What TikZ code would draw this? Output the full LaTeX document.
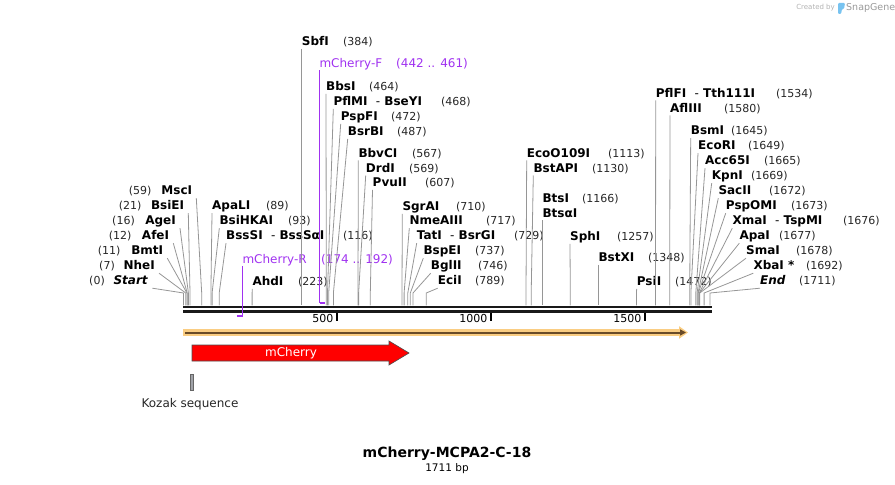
\documentclass[tikz,border=0pt]{standalone}
\usepackage{fontspec}
\setmainfont{DejaVu Sans}
\usetikzlibrary{arrows.meta}
\definecolor{cutgrey}{RGB}{150,150,150}
\definecolor{primercol}{RGB}{160,50,240}
\definecolor{orfhalo}{RGB}{250,205,130}
\definecolor{orfcore}{RGB}{105,75,40}
\definecolor{featred}{RGB}{255,0,0}
\definecolor{kozakgrey}{RGB}{160,162,168}
\definecolor{logoblue}{RGB}{120,195,240}
\tikzset{
    every node/.style={inner sep=0pt},
    enzR/.style={font=\fontsize{12bp}{14bp}\selectfont\bfseries,anchor=base west,text depth=2.5bp,inner ysep=0.5bp},
    enzL/.style={enzR,anchor=base east},
    cutnum/.style={font=\fontsize{11bp}{13bp}\selectfont,text=black!85,anchor=base west},
    cutnumL/.style={cutnum,anchor=base east},
    cutline/.style={draw=cutgrey,line width=0.8bp},
    primer/.style={font=\fontsize{12bp}{14bp}\selectfont,text=primercol,anchor=base west,text depth=2.5bp,inner ysep=0.5bp},
    primerline/.style={draw=primercol,line width=1bp},
    backbone/.style={draw=black!90,line width=2.8bp},
    tick/.style={draw=black,line width=2bp},
    ticklabel/.style={font=\fontsize{11bp}{13bp}\selectfont,anchor=east},
    feat/.style={fill=featred,draw=black!70,line width=0.6bp},
    featlabel/.style={font=\fontsize{12bp}{14bp}\selectfont,text=white},
    featname/.style={font=\fontsize{12bp}{14bp}\selectfont,text=black!85}
}

\begin{document}
\begin{tikzpicture}[x=1bp,y=-1bp]
\useasboundingbox (0,0) rectangle (895,485);

% sequence
\coordinate (seqL) at (183,307);
\coordinate (seqR) at (711.5,307);
\coordinate (seqL2) at (183,311.5);
\coordinate (seqR2) at (711.5,311.5);
\coordinate (seqtop) at (0,305.5);
\draw[backbone] (seqL) -- (seqR);
\draw[backbone] (seqL2) -- (seqR2);

\coordinate (t500) at (337,313);
\coordinate (t1000) at (490.8,313);
\coordinate (t1500) at (644.7,313);
\draw[tick] (t500) -- ++(0,8);
\draw[tick] (t1000) -- ++(0,8);
\draw[tick] (t1500) -- ++(0,8);
\node[ticklabel] (n500) at (333.5,318) {500};
\node[ticklabel] (n1000) at (487.5,318) {1000};
\node[ticklabel] (n1500) at (641.5,318) {1500};

% left cluster
\node[enzL] (lStart) at (148.3,285) {\textit{Start}};
\node[cutnumL] (nStart) at (105,285) {(0)};
\coordinate (kStart) at (183.5,293);
\draw[cutline] ([xshift=4bp]lStart.south east) -- (kStart) -- (kStart |- seqtop);

\node[enzL] (lNheI) at (155,270) {NheI};
\node[cutnumL] (nNheI) at (115,270) {(7)};
\coordinate (kNheI) at (185.7,293);
\draw[cutline] ([xshift=4bp]lNheI.south east) -- (kNheI) -- (kNheI |- seqtop);

\node[enzL] (lBmtI) at (163.3,255) {BmtI};
\node[cutnumL] (nBmtI) at (120.7,255) {(11)};
\coordinate (kBmtI) at (186.9,293);
\draw[cutline] ([xshift=4bp]lBmtI.south east) -- (kBmtI) -- (kBmtI |- seqtop);

\node[enzL] (lAfeI) at (169.3,240) {AfeI};
\node[cutnumL] (nAfeI) at (131.7,240) {(12)};
\coordinate (kAfeI) at (187.2,293);
\draw[cutline] ([xshift=4bp]lAfeI.south east) -- (kAfeI) -- (kAfeI |- seqtop);

\node[enzL] (lAgeI) at (176,225) {AgeI};
\node[cutnumL] (nAgeI) at (135,225) {(16)};
\coordinate (kAgeI) at (188.4,293);
\draw[cutline] ([xshift=4bp]lAgeI.south east) -- (kAgeI) -- (kAgeI |- seqtop);

\node[enzL] (lBsiEI) at (184.3,210) {BsiEI};
\node[cutnumL] (nBsiEI) at (141.7,210) {(21)};
\coordinate (kBsiEI) at (190,293);
\draw[cutline] ([xshift=4bp]lBsiEI.south east) -- (kBsiEI) -- (kBsiEI |- seqtop);

\node[enzL] (lMscI) at (192.3,195) {MscI};
\node[cutnumL] (nMscI) at (151.7,195) {(59)};
\coordinate (kMscI) at (201.7,293);
\draw[cutline] ([xshift=4bp]lMscI.south east) -- (kMscI) -- (kMscI |- seqtop);

% 89 .. 223
\node[enzR] (lApaLI) at (212,210) {ApaLI};
\node[cutnum] (nApaLI) at (266,210) {(89)};
\coordinate (kApaLI) at (210.9,293);
\draw[cutline] (lApaLI.south west) -- (kApaLI) -- (kApaLI |- seqtop);

\node[enzR] (lBsiHKAI) at (219.3,225) {BsiHKAI};
\node[cutnum] (nBsiHKAI) at (288,225) {(93)};
\coordinate (kBsiHKAI) at (212.1,293);
\draw[cutline] (lBsiHKAI.south west) -- (kBsiHKAI) -- (kBsiHKAI |- seqtop);

\node[enzR] (lBssSI) at (226,240) {BssSI~~{\mdseries-}~BssSαI};
\node[cutnum] (nBssSI) at (343,240) {(116)};
\coordinate (kBssSI) at (219.2,293);
\draw[cutline] (lBssSI.south west) -- (kBssSI) -- (kBssSI |- seqtop);

\node[enzR] (lAhdI) at (252.3,285.7) {AhdI};
\node[cutnum] (nAhdI) at (298,285.7) {(223)};
\coordinate (kAhdI) at (252.1,293);
\draw[cutline] (lAhdI.south west) -- (kAhdI) -- (kAhdI |- seqtop);

% primers
\node[primer] (lPrimR) at (242.3,263.3) {mCherry-R};
\node[primer] (nPrimR) at (321,263.3) {(174 .. 192)};
\coordinate (pR0) at (237,316);
\coordinate (pR1) at (242.6,316);
\draw[primerline] (lPrimR.south west) -- (lPrimR.south west |- pR1);
\draw[primerline,line width=2bp] (pR0) -- (pR1);

\node[primer] (lPrimF) at (319.3,67.3) {mCherry-F};
\node[primer] (nPrimF) at (396,67.3) {(442 .. 461)};
\coordinate (pF0) at (319.5,302.7);
\coordinate (pF1) at (325,302.7);
\draw[primerline] (lPrimF.south west) -- (lPrimF.south west |- pF0);
\draw[primerline,line width=2bp] (pF0) -- (pF1);

% 384 .. 607
\node[enzR] (lSbfI) at (301.7,45.7) {SbfI};
\node[cutnum] (nSbfI) at (343,45.7) {(384)};
\coordinate (kSbfI) at (301.7,293);
\draw[cutline] (lSbfI.south west) -- (kSbfI) -- (kSbfI |- seqtop);

\node[enzR] (lBbsI) at (326,90.7) {BbsI};
\node[cutnum] (nBbsI) at (369,90.7) {(464)};
\coordinate (kBbsI) at (326.3,293);
\draw[cutline] (lBbsI.south west) -- (kBbsI) -- (kBbsI |- seqtop);

\node[enzR] (lPflMI) at (333.3,105.7) {PflMI~~{\mdseries-}~BseYI};
\node[cutnum] (nPflMI) at (441,105.7) {(468)};
\coordinate (kPflMI) at (327.5,293);
\draw[cutline] (lPflMI.south west) -- (kPflMI) -- (kPflMI |- seqtop);

\node[enzR] (lPspFI) at (340.7,120.7) {PspFI};
\node[cutnum] (nPspFI) at (391,120.7) {(472)};
\coordinate (kPspFI) at (328.7,293);
\draw[cutline] (lPspFI.south west) -- (kPspFI) -- (kPspFI |- seqtop);

\node[enzR] (lBsrBI) at (347.7,135.7) {BsrBI};
\node[cutnum] (nBsrBI) at (397,135.7) {(487)};
\coordinate (kBsrBI) at (333.4,293);
\draw[cutline] (lBsrBI.south west) -- (kBsrBI) -- (kBsrBI |- seqtop);

\node[enzR] (lBbvCI) at (358.3,157.3) {BbvCI};
\node[cutnum] (nBbvCI) at (412,157.3) {(567)};
\coordinate (kBbvCI) at (358,293);
\draw[cutline] (lBbvCI.south west) -- (kBbvCI) -- (kBbvCI |- seqtop);

\node[enzR] (lDrdI) at (365.7,172.3) {DrdI};
\node[cutnum] (nDrdI) at (409,172.3) {(569)};
\coordinate (kDrdI) at (358.6,293);
\draw[cutline] (lDrdI.south west) -- (kDrdI) -- (kDrdI |- seqtop);

\node[enzR] (lPvuII) at (372.5,186.7) {PvuII};
\node[cutnum] (nPvuII) at (425,186.7) {(607)};
\coordinate (kPvuII) at (370.3,293);
\draw[cutline] (lPvuII.south west) -- (kPvuII) -- (kPvuII |- seqtop);

% 710 .. 789
\node[enzR] (lSgrAI) at (402.3,210.7) {SgrAI};
\node[cutnum] (nSgrAI) at (456,210.7) {(710)};
\coordinate (kSgrAI) at (402,293);
\draw[cutline] (lSgrAI.south west) -- (kSgrAI) -- (kSgrAI |- seqtop);

\node[enzR] (lNmeAIII) at (409.3,225) {NmeAIII};
\node[cutnum] (nNmeAIII) at (486,225) {(717)};
\coordinate (kNmeAIII) at (404.1,293);
\draw[cutline] (lNmeAIII.south west) -- (kNmeAIII) -- (kNmeAIII |- seqtop);

\node[enzR] (lTatI) at (416.7,240) {TatI~~{\mdseries-}~BsrGI};
\node[cutnum] (nTatI) at (514,240) {(729)};
\coordinate (kTatI) at (407.8,293);
\draw[cutline] (lTatI.south west) -- (kTatI) -- (kTatI |- seqtop);

\node[enzR] (lBspEI) at (423.3,255) {BspEI};
\node[cutnum] (nBspEI) at (475,255) {(737)};
\coordinate (kBspEI) at (410.3,293);
\draw[cutline] (lBspEI.south west) -- (kBspEI) -- (kBspEI |- seqtop);

\node[enzR] (lBglII) at (430.7,270) {BglII};
\node[cutnum] (nBglII) at (478,270) {(746)};
\coordinate (kBglII) at (413,293);
\draw[cutline] (lBglII.south west) -- (kBglII) -- (kBglII |- seqtop);

\node[enzR] (lEciI) at (437.7,285) {EciI};
\node[cutnum] (nEciI) at (475,285) {(789)};
\coordinate (kEciI) at (426.3,293);
\draw[cutline] (lEciI.south west) -- (kEciI) -- (kEciI |- seqtop);

% 1113 .. 1472
\node[enzR] (lEcoO109I) at (526.7,157.3) {EcoO109I};
\node[cutnum] (nEcoO109I) at (608,157.3) {(1113)};
\coordinate (kEcoO109I) at (526,293);
\draw[cutline] (lEcoO109I.south west) -- (kEcoO109I) -- (kEcoO109I |- seqtop);

\node[enzR] (lBstAPI) at (533.3,172.3) {BstAPI};
\node[cutnum] (nBstAPI) at (592,172.3) {(1130)};
\coordinate (kBstAPI) at (531.2,293);
\draw[cutline] (lBstAPI.south west) -- (kBstAPI) -- (kBstAPI |- seqtop);

\node[enzR] (lBtsI) at (542.3,202.7) {BtsI};
\node[cutnum] (nBtsI) at (582,202.7) {(1166)};
\node[enzR] (lBtsaI) at (542.3,217.3) {BtsαI};
\coordinate (kBtsI) at (542.3,293);
\draw[cutline] (lBtsaI.south west) -- (kBtsI) -- (kBtsI |- seqtop);

\node[enzR] (lSphI) at (570,240.7) {SphI};
\node[cutnum] (nSphI) at (617,240.7) {(1257)};
\coordinate (kSphI) at (570.3,293);
\draw[cutline] (lSphI.south west) -- (kSphI) -- (kSphI |- seqtop);

\node[enzR] (lBstXI) at (598.3,261.7) {BstXI};
\node[cutnum] (nBstXI) at (648,261.7) {(1348)};
\coordinate (kBstXI) at (598.3,293);
\draw[cutline] (lBstXI.south west) -- (kBstXI) -- (kBstXI |- seqtop);

\node[enzR] (lPsiI) at (636.7,285.7) {PsiI};
\node[cutnum] (nPsiI) at (675,285.7) {(1472)};
\coordinate (kPsiI) at (636.4,293);
\draw[cutline] (lPsiI.south west) -- (kPsiI) -- (kPsiI |- seqtop);

% right cluster
\node[enzR] (lPflFI) at (655.7,97.3) {PflFI~~{\mdseries-}~Tth111I};
\node[cutnum] (nPflFI) at (776,97.3) {(1534)};
\coordinate (kPflFI) at (655.5,293);
\draw[cutline] (lPflFI.south west) -- (kPflFI) -- (kPflFI |- seqtop);

\node[enzR] (lAflIII) at (670,112.3) {AflIII};
\node[cutnum] (nAflIII) at (724,112.3) {(1580)};
\coordinate (kAflIII) at (669.7,293);
\draw[cutline] (lAflIII.south west) -- (kAflIII) -- (kAflIII |- seqtop);

\node[enzR] (lBsmI) at (690.7,135) {BsmI};
\node[cutnum] (nBsmI) at (731,135) {(1645)};
\coordinate (kBsmI) at (689.7,293);
\draw[cutline] (lBsmI.south west) -- (kBsmI) -- (kBsmI |- seqtop);

\node[enzR] (lEcoRI) at (698,150) {EcoRI};
\node[cutnum] (nEcoRI) at (748,150) {(1649)};
\coordinate (kEcoRI) at (690.9,293);
\draw[cutline] (lEcoRI.south west) -- (kEcoRI) -- (kEcoRI |- seqtop);

\node[enzR] (lAcc65I) at (705,165) {Acc65I};
\node[cutnum] (nAcc65I) at (764,165) {(1665)};
\coordinate (kAcc65I) at (695.8,293);
\draw[cutline] (lAcc65I.south west) -- (kAcc65I) -- (kAcc65I |- seqtop);

\node[enzR] (lKpnI) at (711.7,180) {KpnI};
\node[cutnum] (nKpnI) at (751,180) {(1669)};
\coordinate (kKpnI) at (697.1,293);
\draw[cutline] (lKpnI.south west) -- (kKpnI) -- (kKpnI |- seqtop);

\node[enzR] (lSacII) at (718.3,195) {SacII};
\node[cutnum] (nSacII) at (769,195) {(1672)};
\coordinate (kSacII) at (698,293);
\draw[cutline] (lSacII.south west) -- (kSacII) -- (kSacII |- seqtop);

\node[enzR] (lPspOMI) at (725.7,210) {PspOMI};
\node[cutnum] (nPspOMI) at (791,210) {(1673)};
\coordinate (kPspOMI) at (698.3,293);
\draw[cutline] (lPspOMI.south west) -- (kPspOMI) -- (kPspOMI |- seqtop);

\node[enzR] (lXmaI) at (732.3,225) {XmaI~~{\mdseries-}~TspMI};
\node[cutnum] (nXmaI) at (843,225) {(1676)};
\coordinate (kXmaI) at (699.2,293);
\draw[cutline] (lXmaI.south west) -- (kXmaI) -- (kXmaI |- seqtop);

\node[enzR] (lApaI) at (739.3,240) {ApaI};
\node[cutnum] (nApaI) at (779,240) {(1677)};
\coordinate (kApaI) at (699.5,293);
\draw[cutline] (lApaI.south west) -- (kApaI) -- (kApaI |- seqtop);

\node[enzR] (lSmaI) at (746,255) {SmaI};
\node[cutnum] (nSmaI) at (796,255) {(1678)};
\coordinate (kSmaI) at (699.8,293);
\draw[cutline] (lSmaI.south west) -- (kSmaI) -- (kSmaI |- seqtop);

\node[enzR] (lXbaI) at (753.3,270) {XbaI *};
\node[cutnum] (nXbaI) at (806,270) {(1692)};
\coordinate (kXbaI) at (704.1,293);
\draw[cutline] (lXbaI.south west) -- (kXbaI) -- (kXbaI |- seqtop);

\node[enzR] (lEnd) at (760,285) {\textit{End}};
\node[cutnum] (nEnd) at (799,285) {(1711)};
\coordinate (kEnd) at (710,293);
\draw[cutline] (lEnd.south west) -- (kEnd) -- (kEnd |- seqtop);

% orf bar
\coordinate (orfL) at (183,332.5);
\coordinate (orfR) at (688,332.5);
\draw[draw=orfhalo,line width=7bp,-{Triangle[length=9bp,width=12bp]}] (orfL) -- (orfR);
\draw[draw=orfcore,line width=2bp,-{Triangle[length=6bp,width=6bp]}] ([xshift=2bp]orfL) -- ([xshift=-2bp]orfR);

% features
\draw[feat] (192,345) -- (389,345) -- (389,341) -- (409,353) -- (389,365) -- (389,361) -- (192,361) -- cycle;
\node[featlabel] (mCherry) at (291,353) {mCherry};

\draw[fill=kozakgrey,draw=black!60,line width=0.6bp] (190,374) rectangle (193.7,390.7);
\node[featname] (kozak) at (190,404) {Kozak sequence};

% title
\node[font=\fontsize{14bp}{16bp}\selectfont\bfseries] (title) at (447,454) {mCherry-MCPA2-C-18};
\node[font=\fontsize{10.5bp}{12bp}\selectfont] (length) at (447,469) {1711 bp};

% watermark
\node[font=\fontsize{7bp}{8bp}\selectfont,text=black!30,anchor=base east] (created) at (835,10) {Created by};
\fill[logoblue,rounded corners=1bp] (838,3) -- (845,3) -- (844,9) -- (842,9) -- (841,14) -- (838,14) -- cycle;
\node[font=\fontsize{9.5bp}{11bp}\selectfont,text=black!40,anchor=base west] (snapgene) at (846,11) {SnapGene};
\end{tikzpicture}
\end{document}
